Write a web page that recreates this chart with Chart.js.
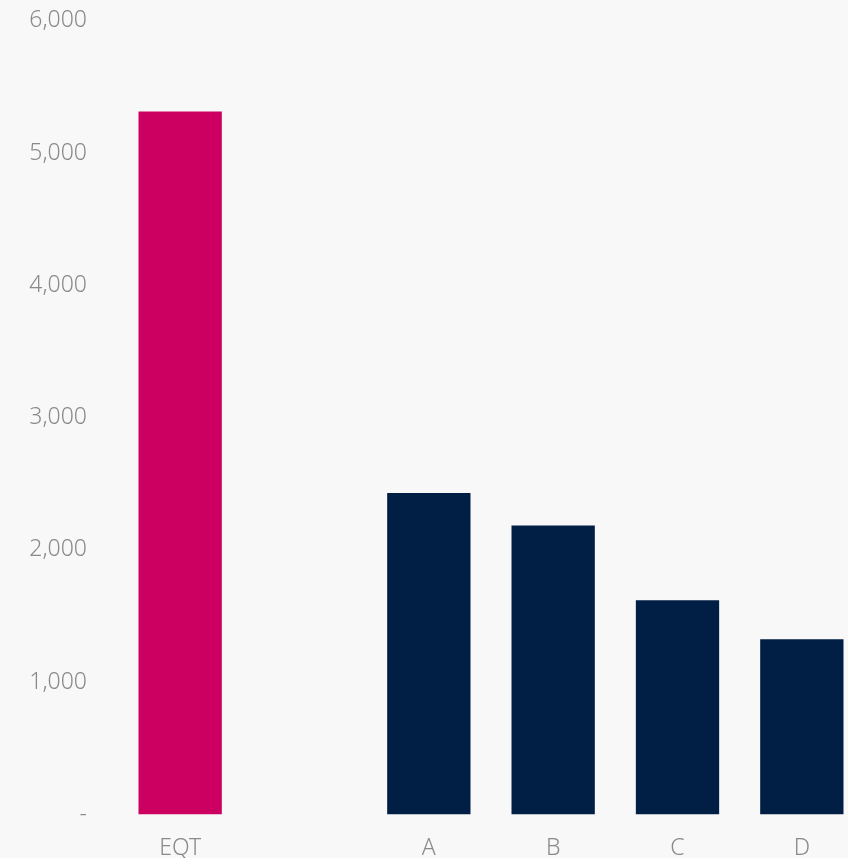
<!DOCTYPE html>
<html>
<head>
<meta charset="utf-8">
<script src="https://cdn.jsdelivr.net/npm/chart.js@4"></script>
<style>
  html, body { margin: 0; padding: 0; background: #f8f8f8; overflow: hidden; width: 848px; height: 858px; }
  #wrap { position: absolute; left: 0; top: -16px; width: 864px; height: 892px; }
</style>
</head>
<body>
<div id="wrap"><canvas id="c"></canvas></div>
<script>
const categories = ["EQT", "", "A", "B", "C", "D"];
const values = [5315, null, 2430, 2185, 1620, 1325];
const barColors = ["#cc0060", "#011e45", "#011e45", "#011e45", "#011e45", "#011e45"];
const yTicks = [0, 1000, 2000, 3000, 4000, 5000, 6000];

new Chart(document.getElementById('c'), {
  type: 'bar',
  data: {
    labels: categories,
    datasets: [{
      data: values,
      backgroundColor: barColors,
      borderWidth: 0,
      categoryPercentage: 1,
      barPercentage: 0.67
    }]
  },
  options: {
    responsive: true,
    maintainAspectRatio: false,
    animation: false,
    layout: { padding: { top: 6, bottom: 2, left: 0, right: 0 } },
    plugins: { legend: { display: false }, tooltip: { enabled: false } },
    scales: {
      x: {
        grid: { display: false },
        border: { display: false },
        ticks: { color: '#8a8a8a', font: { family: 'Noto Sans', size: 23, weight: '300' }, padding: 12 }
      },
      y: {
        min: 0, max: 6000,
        afterFit: (s) => { s.width = 118; },
        afterBuildTicks: (s) => { s.ticks = yTicks.map(v => ({ value: v })); },
        grid: { display: false },
        border: { display: false },
        ticks: {
          color: '#8a8a8a',
          font: { family: 'Noto Sans', size: 23, weight: '300' },
          padding: 23,
          callback: (v) => v === 0 ? '-' : v.toLocaleString('en-US')
        }
      }
    }
  }
});
</script>
</body>
</html>
